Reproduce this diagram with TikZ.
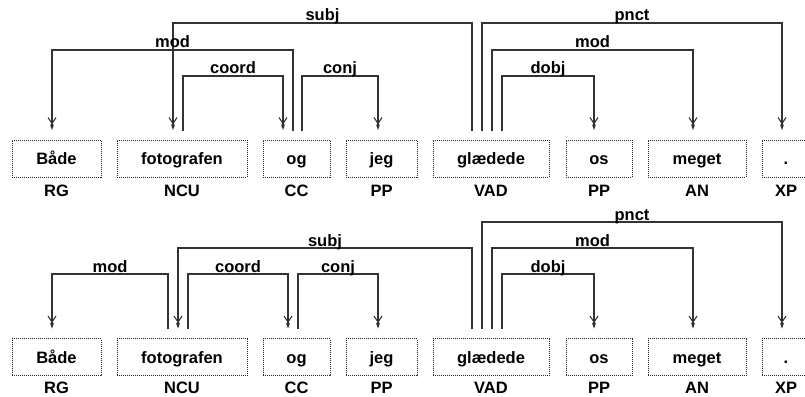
\documentclass[tikz,border=0pt]{standalone}
\usepackage{fontspec}
\setmainfont{Liberation Sans}
\usetikzlibrary{arrows.meta,calc}

\tikzset{
  word/.style={draw=black!85, line width=1pt, dash pattern=on 1pt off 1pt,
    minimum height=37pt, text height=12pt, text depth=0pt, inner xsep=0pt,
    font=\fontsize{16.5}{18}\selectfont\bfseries},
  tag/.style={anchor=base, inner sep=0pt, font=\fontsize{16.5}{18}\selectfont\bfseries},
  lbl/.style={anchor=base, inner sep=0pt, yshift=2pt, font=\fontsize{16.5}{18}\selectfont\bfseries},
  deparc/.style={draw=black!80, line width=1.3pt,
    -{Straight Barb[length=6pt,width=8pt,line width=1.1pt]Triangle[length=6pt,width=3.5pt]}}
}

% dependency arc: source node, source x, target node, target x, level y, label
\newcommand\deplink[6]{%
  \draw[deparc] ($(#2,0 |- #1.north)+(0,-9)$) -- (#2,#5)
    -- node[lbl]{#6} (#4,#5) -- ($(#4,0 |- #3.north)+(0,-9)$);}

\begin{document}
\begin{tikzpicture}[x=1pt,y=-1pt]
\useasboundingbox (0,0) rectangle (805,396);
\clip (0,0) rectangle (805,396);

% ---------- first analysis ----------
\node[word, minimum width=89pt]  (a1) at (56.5,158.5) {Både};
\node[word, minimum width=130pt] (b1) at (182,158.5)  {fotografen};
\node[word, minimum width=67pt]  (c1) at (296.5,158.5) {og};
\node[word, minimum width=71pt]  (d1) at (381.5,158.5) {jeg};
\node[word, minimum width=116pt] (e1) at (491,158.5)  {glædede};
\node[word, minimum width=66pt]  (f1) at (599,158.5)  {os};
\node[word, minimum width=98pt]  (g1) at (697,158.5)  {meget};
\node[word, minimum width=48pt]  (h1) at (786,158.5)  {.};

\node[tag] (ta1) at (56.5,196) {RG};
\node[tag] (tb1) at (182,196)  {NCU};
\node[tag] (tc1) at (296.5,196) {CC};
\node[tag] (td1) at (381.5,196) {PP};
\node[tag] (te1) at (491,196)  {VAD};
\node[tag] (tf1) at (599,196)  {PP};
\node[tag] (tg1) at (697,196)  {AN};
\node[tag] (th1) at (786,196)  {XP};

\deplink{e1}{472}{b1}{173}{23}{subj}
\deplink{c1}{293}{a1}{52}{50}{mod}
\deplink{b1}{183}{c1}{283}{76}{coord}
\deplink{c1}{302}{d1}{378}{76}{conj}
\deplink{e1}{482}{h1}{782}{23}{pnct}
\deplink{e1}{492}{g1}{693}{50}{mod}
\deplink{e1}{502}{f1}{594}{76}{dobj}

% ---------- second analysis ----------
\node[word, minimum width=89pt]  (a2) at (56.5,357) {Både};
\node[word, minimum width=130pt] (b2) at (182,357)  {fotografen};
\node[word, minimum width=67pt]  (c2) at (296.5,357) {og};
\node[word, minimum width=71pt]  (d2) at (381.5,357) {jeg};
\node[word, minimum width=116pt] (e2) at (491,357)  {glædede};
\node[word, minimum width=66pt]  (f2) at (599,357)  {os};
\node[word, minimum width=98pt]  (g2) at (697,357)  {meget};
\node[word, minimum width=48pt]  (h2) at (786,357)  {.};

\node[tag] (ta2) at (56.5,393.5) {RG};
\node[tag] (tb2) at (182,393.5)  {NCU};
\node[tag] (tc2) at (296.5,393.5) {CC};
\node[tag] (td2) at (381.5,393.5) {PP};
\node[tag] (te2) at (491,393.5)  {VAD};
\node[tag] (tf2) at (599,393.5)  {PP};
\node[tag] (tg2) at (697,393.5)  {AN};
\node[tag] (th2) at (786,393.5)  {XP};

\deplink{b2}{168}{a2}{52}{274}{mod}
\deplink{e2}{472}{b2}{178}{248}{subj}
\deplink{b2}{188}{c2}{288}{274}{coord}
\deplink{c2}{298}{d2}{378}{274}{conj}
\deplink{e2}{482}{h2}{782}{222}{pnct}
\deplink{e2}{492}{g2}{693}{248}{mod}
\deplink{e2}{502}{f2}{594}{274}{dobj}
\end{tikzpicture}
\end{document}
